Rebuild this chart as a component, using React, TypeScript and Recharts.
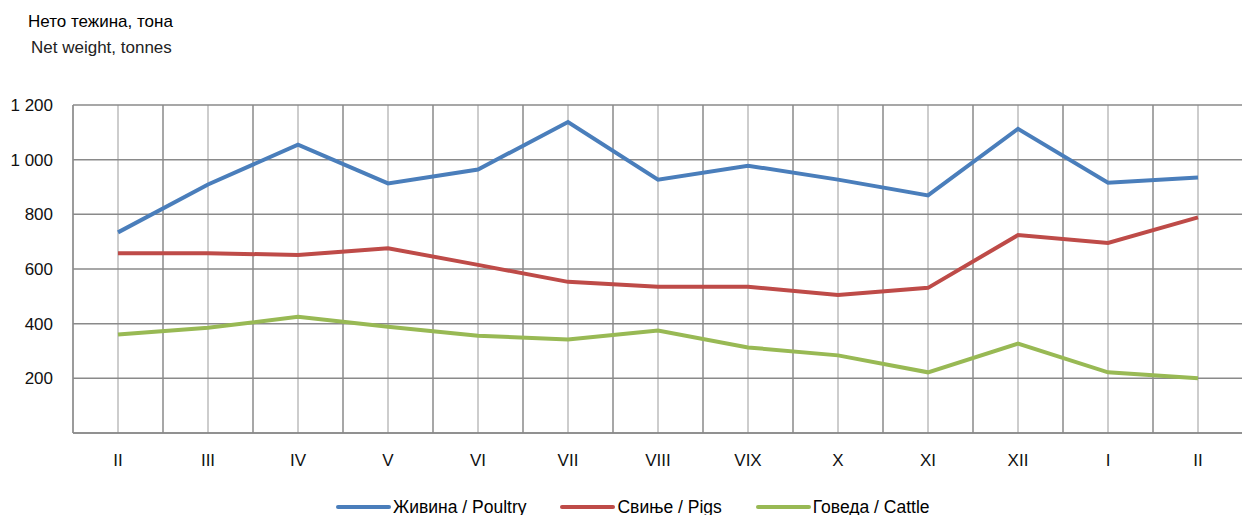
import React from 'react';
import { LineChart, Line, XAxis, YAxis, CartesianGrid, ReferenceLine } from 'recharts';

const months = ['II', 'III', 'IV', 'V', 'VI', 'VII', 'VIII', 'VIX', 'X', 'XI', 'XII', 'I', 'II'];
const poultry = [734, 909, 1055, 913, 964, 1138, 927, 978, 927, 869, 1113, 916, 935];
const pigs = [658, 658, 651, 676, 615, 553, 535, 535, 505, 531, 724, 695, 789];
const cattle = [360, 385, 425, 389, 356, 342, 375, 313, 284, 222, 327, 222, 200];
const yTicks = [0, 200, 400, 600, 800, 1000, 1200];

const seriesInfo = [
  { key: 'poultry', color: '#4a7ebb', sr: 'Живина', en: 'Poultry' },
  { key: 'pigs', color: '#be4b48', sr: 'Свиње', en: 'Pigs' },
  { key: 'cattle', color: '#98b954', sr: 'Говеда', en: 'Cattle' },
];

const data = months.map((m, i) => ({ idx: i, month: m, poultry: poultry[i], pigs: pigs[i], cattle: cattle[i] }));
const xTicks = months.map((_, i) => i);
const boundaries = months.map((_, i) => i + 0.5);

const FONT = '"Liberation Sans Narrow", "Arial Narrow", "Liberation Sans", Arial, sans-serif';

const fmt = (v: number) => (v === 0 ? '' : String(v).replace(/\B(?=(\d{3})+(?!\d))/g, ' '));

export default function App() {
  return (
    <div style={{ position: 'fixed', left: 0, top: 0, width: 1242, height: 515, overflow: 'hidden', background: '#fff' }}>
      <div style={{ position: 'absolute', left: 28, top: 11, fontFamily: FONT, fontSize: 17, color: '#000', lineHeight: '22px' }}>
        Нето тежина, тона
      </div>
      <div style={{ position: 'absolute', left: 31, top: 37, fontFamily: FONT, fontSize: 17, color: '#222', lineHeight: '22px' }}>
        Net weight, tonnes
      </div>
      <LineChart width={1250} height={515} data={data} margin={{ top: 105, right: 7, bottom: 52, left: 0 }}>
        <CartesianGrid stroke="#bdbdbd" strokeWidth={1.5} horizontal={false} vertical={true} />
        <CartesianGrid stroke="#8a8a8a" strokeWidth={1.5} horizontal={true} vertical={false} />
        {boundaries.map((b) => (
          <ReferenceLine key={b} x={b} stroke="#8a8a8a" strokeWidth={1.5} />
        ))}
        <XAxis
          type="number"
          dataKey="idx"
          height={30}
          domain={[-0.5, 12.5]}
          ticks={xTicks}
          tickFormatter={(v: number) => months[v]}
          interval={0}
          tickLine={false}
          axisLine={{ stroke: '#8a8a8a', strokeWidth: 1.5 }}
          tickMargin={15}
          tick={{ fill: '#111', fontSize: 17, fontFamily: FONT }}
          allowDecimals={true}
        />
        <YAxis
          width={73}
          domain={[0, 1200]}
          ticks={yTicks}
          tickFormatter={fmt}
          tickLine={false}
          axisLine={{ stroke: '#8a8a8a', strokeWidth: 1.5 }}
          tickMargin={14}
          tick={{ fill: '#111', fontSize: 17, fontFamily: FONT }}
        />
        {seriesInfo.map((s) => (
          <Line
            key={s.key}
            type="linear"
            dataKey={s.key}
            stroke={s.color}
            strokeWidth={4}
            dot={false}
            activeDot={false}
            isAnimationActive={false}
          />
        ))}
      </LineChart>
      <div
        style={{
          position: 'absolute',
          left: 336,
          top: 496,
          height: 22,
          display: 'flex',
          alignItems: 'center',
          fontFamily: FONT,
          fontSize: 17.5,
          color: '#000',
          whiteSpace: 'nowrap',
        }}
      >
        {seriesInfo.map((s, i) => (
          <div key={s.key} style={{ display: 'flex', alignItems: 'center', marginRight: i < 2 ? 34 : 0 }}>
            <div style={{ width: 55, height: 4, borderRadius: 2, background: s.color, marginRight: 2 }} />
            <span>
              {s.sr} / {s.en}
            </span>
          </div>
        ))}
      </div>
    </div>
  );
}
